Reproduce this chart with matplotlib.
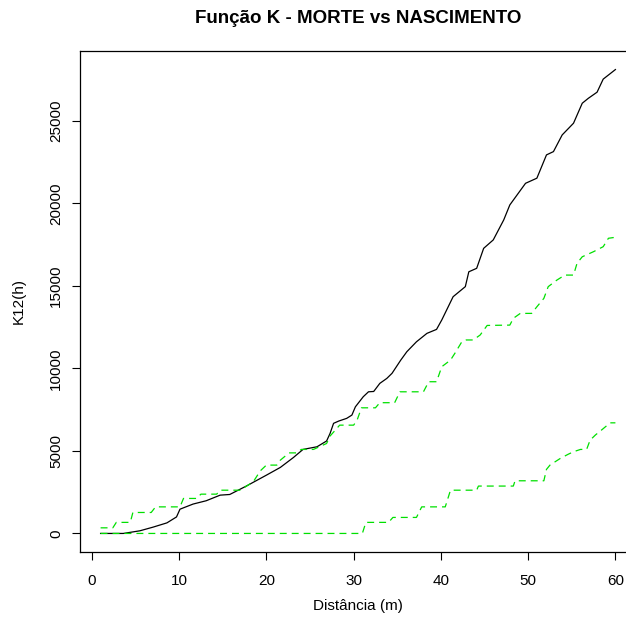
import numpy as np
import matplotlib
matplotlib.use("Agg")
from matplotlib import pyplot as plt

plt.rcParams['font.family'] = ['Liberation Sans', 'DejaVu Sans']
plt.rcParams['lines.scale_dashes'] = False

# distância (m) e K12(h) observada
dist_obs = [1, 3.6, 5.5, 7.0, 8.6, 9.7, 10.1, 11.6, 13.1, 14.7, 15.8, 17.7, 20.0,
            21.6, 23.1, 24.2, 25.8, 26.9, 27.3, 27.7, 28.3, 29.2, 29.8, 30.2, 31.1,
            31.7, 32.3, 33.0, 33.8, 34.4, 34.9, 35.4, 36.1, 37.2, 38.4, 39.5, 40.1,
            41.4, 42.8, 43.2, 44.1, 44.9, 46.0, 47.2, 47.9, 49.7, 51.0, 52.1, 52.9,
            53.9, 55.2, 56.2, 56.9, 57.9, 58.6, 60.0]
k_obs = [0, 0, 160, 380, 640, 1000, 1470, 1780, 1980, 2320, 2360, 2870, 3530,
         4000, 4600, 5090, 5250, 5600, 6060, 6670, 6810, 6970, 7170, 7670, 8280,
         8580, 8600, 9090, 9390, 9700, 10100, 10500, 11010, 11610, 12120, 12360, 12930,
         14340, 14950, 15850, 16060, 17270, 17780, 18990, 19900, 21210, 21520, 22930, 23130,
         24140, 24850, 26060, 26360, 26730, 27520, 28100]

# envelope superior
dist_sup = [1, 2.4, 2.8, 4.4, 4.7, 6.8, 7.3, 10.1, 10.5, 12.0, 12.5, 14.3, 14.7, 17.0,
            18.5, 19.3, 20.0, 21.2, 21.6, 22.6, 23.5, 24.0, 25.4, 26.9, 27.3, 28.4,
            30.0, 30.4, 30.9, 32.5, 33.0, 34.7, 35.3, 38.0, 38.6, 39.5, 40.1, 41.1,
            41.6, 42.4, 42.9, 43.7, 44.5, 45.3, 47.9, 48.3, 49.1, 50.4, 51.0, 51.8,
            52.3, 53.3, 54.2, 55.2, 55.6, 56.2, 57.5, 58.6, 59.2, 60.0]
k_sup = [340, 340, 670, 670, 1270, 1270, 1610, 1610, 2120, 2120, 2380, 2380, 2620, 2620,
         3130, 3790, 4140, 4140, 4440, 4880, 4880, 5090, 5090, 5450, 5900, 6560,
         6560, 6870, 7610, 7610, 7920, 7920, 8580, 8580, 9190, 9190, 10100, 10500,
         10910, 11610, 11720, 11720, 12020, 12600, 12620, 13030, 13330, 13330, 13730, 14240,
         14950, 15350, 15650, 15650, 16360, 16760, 17070, 17370, 17880, 17940]

# envelope inferior
dist_inf = [1, 31.0, 31.4, 34.0, 34.5, 37.2, 37.8, 40.5, 41.1, 44.1, 44.3, 48.3, 48.5,
            51.8, 52.1, 52.5, 53.7, 54.6, 55.2, 56.0, 56.7, 57.1, 57.7, 58.4, 59.4, 60.0]
k_inf = [0, 0, 670, 670, 970, 970, 1610, 1610, 2620, 2620, 2870, 2870, 3190,
         3190, 3880, 4140, 4550, 4800, 4950, 5090, 5090, 5650, 5960, 6260, 6700, 6700]

fig = plt.figure(figsize=(6.26, 6.26), dpi=100)
ax = fig.add_axes([80 / 626, 74 / 626, 556 / 626, 501 / 626])

ax.plot(dist_obs, k_obs, color='black', lw=0.9)
ax.plot(dist_sup, k_sup, color='#00e000', lw=0.9, dashes=(5, 3.6))
ax.plot(dist_inf, k_inf, color='#00e000', lw=0.9, dashes=(5, 3.6))

# limites no estilo do R (4% de margem)
xr = max(dist_obs) - min(dist_obs)
ax.set_xlim(min(dist_obs) - 0.04 * xr, max(dist_obs) + 0.04 * xr)
yr = max(k_obs)
ax.set_ylim(-0.04 * yr, yr * 1.04)

ax.set_xticks([0, 10, 20, 30, 40, 50, 60])
ax.set_yticks([0, 5000, 10000, 15000, 20000, 25000])
ax.tick_params(direction='out', length=6, width=0.8, labelsize=11)
ax.tick_params(axis='x', pad=10)
ax.tick_params(axis='y', pad=6)
for lbl in ax.get_yticklabels():
    lbl.set_rotation(90)
    lbl.set_va('center')
for sp in ax.spines.values():
    sp.set_linewidth(0.9)

ax.set_title('Função K - MORTE vs NASCIMENTO', fontsize=13.5, fontweight='bold', pad=20)
ax.set_xlabel('Distância (m)', fontsize=11, labelpad=8)
ax.set_ylabel('K12(h)', fontsize=11, labelpad=17)

plt.savefig('out.png', dpi=100)
